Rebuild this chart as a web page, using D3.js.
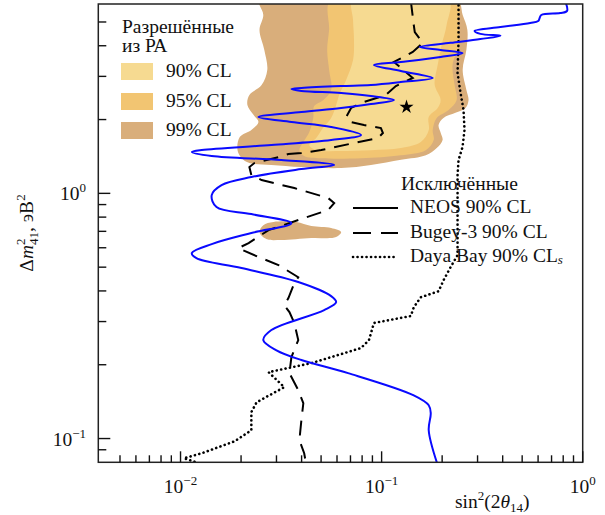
<!DOCTYPE html>
<html>
<head>
<meta charset="utf-8">
<script src="https://cdn.jsdelivr.net/npm/d3@7"></script>
<style>
  body { margin: 0; background: #fff; }
  text { font-family: "Liberation Serif", "Times New Roman", serif; fill: #111; }
</style>
</head>
<body>
<div id="chart"></div>
<script>
// Allowed regions from PA, [sin^2(2theta14), dm2_41]
const cl99 = [[0.0247,6.2],[0.236,6.2],[0.253,5.34],[0.267,4.64],[0.264,3.85],[0.253,3.19],[0.264,2.64],
  [0.2705,2.40],[0.261,2.23],[0.233,2.13],[0.203,2.03],[0.192,1.90],[0.197,1.76],[0.201,1.65],[0.188,1.53],
  [0.166,1.43],[0.125,1.37],[0.0885,1.305],[0.0629,1.268],[0.0399,1.28],[0.0283,1.305],[0.0220,1.329],
  [0.0201,1.393],[0.0192,1.502],[0.0197,1.697],[0.0225,1.813],[0.0244,1.954],[0.0231,2.087],[0.0215,2.293],
  [0.0220,2.519],[0.0253,2.767],[0.0270,3.185],[0.0261,3.845],[0.0247,4.64],[0.0258,5.34]];
const cl99island = [[0.0247,0.695],[0.0258,0.742],[0.0290,0.764],[0.0376,0.764],[0.0447,0.736],[0.0561,0.722],
  [0.0629,0.695],[0.0594,0.663],[0.0447,0.657],[0.0317,0.645],[0.0267,0.651]];
const cl95 = [[0.0561,6.2],[0.2386,6.2],[0.2413,5.10],[0.2413,4.03],[0.2254,3.34],[0.2306,2.77],[0.2359,2.40],
  [0.2153,2.19],[0.1879,2.03],[0.1795,1.81],[0.1816,1.65],[0.1657,1.50],[0.1246,1.43],[0.0790,1.39],
  [0.0501,1.39],[0.0412,1.42],[0.0390,1.50],[0.0408,1.62],[0.0437,1.78],[0.0457,2.03],[0.0462,2.27],
  [0.0512,2.40],[0.0561,2.64],[0.0548,3.19],[0.0536,3.85],[0.0548,4.64]];
const cl90 = [[0.0721,6.2],[0.2153,6.2],[0.2105,4.86],[0.1988,4.03],[0.190,3.34],[0.1836,2.77],[0.1966,2.40],
  [0.190,2.23],[0.1715,2.05],[0.1715,1.81],[0.1566,1.62],[0.1246,1.53],[0.0885,1.50],[0.0594,1.49],
  [0.0473,1.50],[0.0437,1.575],[0.0473,1.68],[0.0512,1.85],[0.0561,2.03],[0.0594,2.29],[0.0615,2.52],
  [0.0666,2.90],[0.0721,3.50],[0.0729,4.225],[0.0721,5.10]];
const bestFit = [0.133, 2.25];

// Excluded curves
const neos = [[0.817,6.1],[0.836,5.55],[0.772,5.44],[0.622,5.34],[0.601,5.05],[0.548,4.955],[0.390,4.77],
  [0.290,4.60],[0.310,4.47],[0.390,4.39],[0.310,4.26],[0.2203,4.11],[0.1548,3.956],[0.1966,3.845],
  [0.2526,3.738],[0.1966,3.60],[0.1246,3.435],[0.0916,3.34],[0.1246,3.156],[0.1795,2.955],[0.1246,2.846],
  [0.0885,2.767],[0.0629,2.741],[0.0399,2.690],[0.0356,2.665],[0.0399,2.616],[0.0629,2.567],[0.0885,2.496],
  [0.1151,2.404],[0.0885,2.315],[0.0629,2.230],[0.0399,2.147],[0.0244,2.048],[0.0356,1.954],[0.0561,1.865],
  [0.0790,1.729],[0.0561,1.650],[0.0283,1.575],[0.01275,1.502],[0.01138,1.474],[0.01429,1.420],[0.0317,1.367],
  [0.0581,1.305],[0.0399,1.256],[0.0225,1.166],[0.0160,1.081],[0.01429,0.984],[0.0151,0.879],[0.0225,0.823],
  [0.0356,0.756],[0.0225,0.689],[0.01429,0.621],[0.01138,0.571],[0.0120,0.544],[0.0201,0.496],[0.0385,0.435],
  [0.0561,0.381],[0.0594,0.360],[0.0518,0.334],[0.0283,0.277],[0.0258,0.252],[0.0300,0.229],[0.0399,0.209],
  [0.0681,0.1848],[0.1445,0.150],[0.1715,0.1367],[0.1755,0.1269],[0.1715,0.1081],[0.190,0.078]];
const bugey = [[0.1397,6.1],[0.1445,4.86],[0.1462,4.55],[0.1602,4.11],[0.1429,3.774],[0.1151,3.435],
  [0.1319,3.126],[0.1429,2.955],[0.1177,2.741],[0.1050,2.519],[0.0817,2.359],[0.0705,2.230],[0.0666,2.048],
  [0.0705,1.954],[0.0817,1.900],[0.0992,1.847],[0.1015,1.762],[0.0959,1.681],[0.0729,1.605],[0.0501,1.502],
  [0.0399,1.460],[0.0344,1.447],[0.0307,1.406],[0.0233,1.329],[0.0220,1.280],[0.0225,1.188],[0.0253,1.133],
  [0.0368,1.051],[0.0542,0.957],[0.0581,0.913],[0.0542,0.855],[0.0412,0.793],[0.0274,0.708],[0.0218,0.627],
  [0.0194,0.598],[0.0244,0.550],[0.0307,0.510],[0.0385,0.455],[0.0368,0.430],[0.0344,0.374],[0.0328,0.350],
  [0.0348,0.328],[0.0368,0.296],[0.0385,0.252],[0.0356,0.215],[0.0348,0.1848],[0.0385,0.1575],[0.0408,0.1393],
  [0.0399,0.1188],[0.0390,0.0984],[0.0412,0.0871],[0.0422,0.078]];
const dayaBay = [[0.2413,6.1],[0.2413,4.225],[0.2386,3.097],[0.2469,2.567],[0.2555,2.188],[0.2584,1.813],
  [0.2526,1.545],[0.2413,1.367],[0.2386,1.188],[0.2386,0.560],[0.2203,0.500],[0.2034,0.443],[0.1922,0.399],
  [0.1566,0.377],[0.1445,0.343],[0.1397,0.316],[0.0916,0.296],[0.0865,0.252],[0.0790,0.234],[0.0447,0.203],
  [0.0274,0.1865],[0.0328,0.162],[0.0239,0.1406],[0.0225,0.1281],[0.0225,0.1081],[0.0186,0.0975],
  [0.01275,0.0871],[0.0104,0.0831],[0.0120,0.0800]];

const allowedLabels = ["90% CL", "95% CL", "99% CL"];
const allowedColors = ["#f6da91", "#f2c572", "#d9ae7b"];
const excludedLabels = ["NEOS 90% CL", "Bugey-3 90% CL", "Daya Bay 90% CL"];
const xMajor = [0.01, 0.1, 1];
const yMajor = [0.1, 1];

const width = 605, height = 515;
const pLeft = 98.3, pRight = 582.7, pTop = 4, pBottom = 462.3;

const svg = d3.select("#chart").append("svg")
  .attr("width", width).attr("height", height);

const x = d3.scaleLog().domain([0.0039, 1]).range([pLeft, pRight]);
const y = d3.scaleLog().domain([0.08, 5.92]).range([pBottom, pTop]);

svg.append("clipPath").attr("id", "plot")
  .append("rect").attr("x", pLeft).attr("y", pTop)
  .attr("width", pRight - pLeft).attr("height", pBottom - pTop);

const g = svg.append("g").attr("clip-path", "url(#plot)");

// filled regions
const area = d3.line().x(d => x(d[0])).y(d => y(d[1])).curve(d3.curveCatmullRomClosed.alpha(0.5));
g.append("path").attr("d", area(cl99)).attr("fill", allowedColors[2]);
g.append("path").attr("d", area(cl99island)).attr("fill", allowedColors[2]);
g.append("path").attr("d", area(cl95)).attr("fill", allowedColors[1]);
g.append("path").attr("d", area(cl90)).attr("fill", allowedColors[0]);

// exclusion curves
const smooth = d3.line().x(d => x(d[0])).y(d => y(d[1])).curve(d3.curveCatmullRom.alpha(0.5));
const straight = d3.line().x(d => x(d[0])).y(d => y(d[1]));

g.append("path").attr("d", straight(dayaBay))
  .attr("fill", "none").attr("stroke", "#000").attr("stroke-width", 2.6)
  .attr("stroke-linecap", "round").attr("stroke-dasharray", "0.1,4.4");

g.append("path").attr("d", straight(bugey))
  .attr("fill", "none").attr("stroke", "#000").attr("stroke-width", 2)
  .attr("stroke-dasharray", "15,9");

g.append("path").attr("d", smooth(neos))
  .attr("fill", "none").attr("stroke", "#0a0aff").attr("stroke-width", 2);

g.append("path")
  .attr("d", d3.symbol().type(d3.symbolStar).size(62)())
  .attr("transform", `translate(${x(bestFit[0])},${y(bestFit[1])})`)
  .attr("fill", "#000");

// frame
svg.append("rect").attr("x", pLeft).attr("y", pTop)
  .attr("width", pRight - pLeft).attr("height", pBottom - pTop)
  .attr("fill", "none").attr("stroke", "#222").attr("stroke-width", 1.5);

// ticks (inward)
const xt = x.ticks().filter(v => v > 0.0045);
svg.append("g").selectAll("line").data(xt).join("line")
  .attr("x1", d => x(d)).attr("x2", d => x(d))
  .attr("y1", pBottom).attr("y2", d => pBottom - (xMajor.some(m => Math.abs(m - d) < 1e-9) ? 11 : 7))
  .attr("stroke", "#111").attr("stroke-width", 1.4);

const yt = y.ticks().filter(v => v > 0.085);
svg.append("g").selectAll("line").data(yt).join("line")
  .attr("y1", d => y(d)).attr("y2", d => y(d))
  .attr("x1", pLeft).attr("x2", d => pLeft + (yMajor.some(m => Math.abs(m - d) < 1e-9) ? 12 : 8))
  .attr("stroke", "#111").attr("stroke-width", 1.4);

const fs = 19.5, sfs = 13;
function powLabel(sel, exp) {
  sel.append("tspan").text("10");
  sel.append("tspan").attr("dy", -8).attr("font-size", sfs).text(exp);
}
const expText = v => { const e = Math.round(Math.log10(v)); return e < 0 ? "\u2212" + (-e) : String(e); };

xMajor.forEach(v => {
  svg.append("text").attr("x", x(v)).attr("y", 493).attr("text-anchor", "middle")
    .attr("font-size", fs).call(powLabel, expText(v));
});
yMajor.forEach(v => {
  svg.append("text").attr("x", 86).attr("y", y(v) + 7).attr("text-anchor", "end")
    .attr("font-size", fs).call(powLabel, expText(v));
});

// axis titles
const xl = svg.append("text").attr("x", 455).attr("y", 508).attr("font-size", fs);
xl.append("tspan").text("sin");
xl.append("tspan").attr("dy", -8).attr("font-size", sfs).text("2");
xl.append("tspan").attr("dy", 8).text("(2");
xl.append("tspan").attr("font-style", "italic").text("θ");
xl.append("tspan").attr("dy", 4).attr("font-size", sfs).text("14");
xl.append("tspan").attr("dy", -4).text(")");

const yl = svg.append("text").attr("transform", "translate(33,233) rotate(-90)")
  .attr("text-anchor", "middle").attr("font-size", fs);
yl.append("tspan").text("Δ");
yl.append("tspan").attr("font-style", "italic").text("m");
yl.append("tspan").attr("dy", -8).attr("font-size", sfs).text("2");
yl.append("tspan").attr("dx", -6.5).attr("dy", 13).attr("font-size", sfs).text("41");
yl.append("tspan").attr("dy", -5).text(", эВ");
yl.append("tspan").attr("dy", -8).attr("font-size", sfs).text("2");

// allowed legend
svg.append("text").attr("x", 122).attr("y", 33).attr("font-size", fs).text("Разрешённые");
svg.append("text").attr("x", 122).attr("y", 52).attr("font-size", fs).text("из РА");
const swY = [63, 93, 122];
allowedLabels.forEach((lab, i) => {
  svg.append("rect").attr("x", 121).attr("y", swY[i]).attr("width", 32).attr("height", 17)
    .attr("fill", allowedColors[i]);
  svg.append("text").attr("x", 166).attr("y", swY[i] + 13.5).attr("font-size", fs).text(lab);
});

// excluded legend
svg.append("text").attr("x", 401).attr("y", 190).attr("font-size", fs).text("Исключённые");
const lgY = [208, 233, 257];
const lgStyle = [
  { dash: null, w: 2, cap: "butt" },
  { dash: "18,10", w: 2, cap: "butt" },
  { dash: "0.1,4.4", w: 2.6, cap: "round" }
];
excludedLabels.forEach((lab, i) => {
  svg.append("line").attr("x1", 353).attr("x2", 398).attr("y1", lgY[i]).attr("y2", lgY[i])
    .attr("stroke", "#000").attr("stroke-width", lgStyle[i].w)
    .attr("stroke-linecap", lgStyle[i].cap)
    .attr("stroke-dasharray", lgStyle[i].dash);
  const t = svg.append("text").attr("x", 410).attr("y", lgY[i] + 5).attr("font-size", fs).text(lab);
  if (i === 2) t.append("tspan").attr("font-style", "italic").attr("font-size", sfs).attr("dy", 2).text("s");
});
</script>
</body>
</html>
